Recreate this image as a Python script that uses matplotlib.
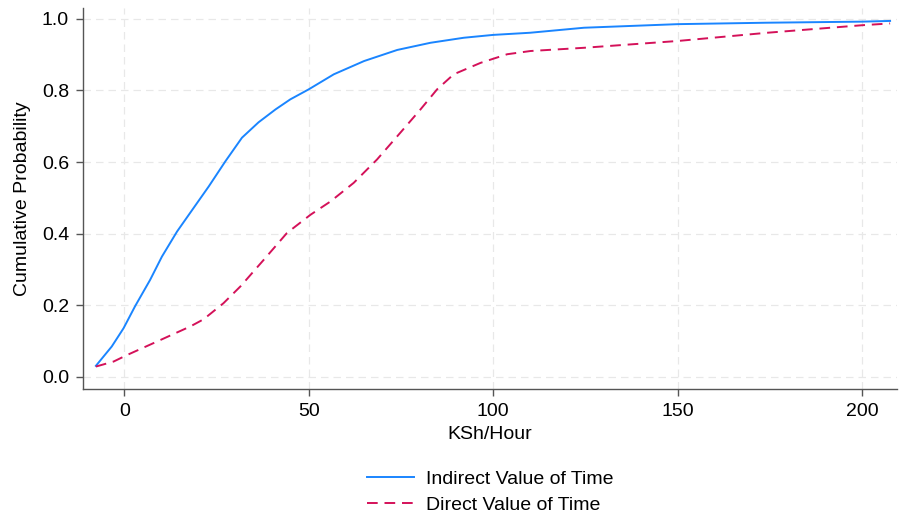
import matplotlib
matplotlib.use("Agg")
import matplotlib.pyplot as plt

plt.rcParams['font.family'] = ['Liberation Sans', 'DejaVu Sans']

# Indirect value of time
ind_x = [-7.7, -3.4, -0.2, 2.9, 7.0, 10.2, 14.3, 18.8, 22.9, 27.4, 31.9, 36.4, 41.0, 45.0,
         50.0, 56.8, 65.0, 74.0, 83.0, 92.0, 100.0, 110.0, 124.6, 150.0, 174.0, 200.0, 207.6]
ind_y = [0.031, 0.085, 0.136, 0.197, 0.271, 0.336, 0.406, 0.472, 0.532, 0.602, 0.668, 0.711, 0.747, 0.775,
         0.803, 0.845, 0.882, 0.913, 0.933, 0.947, 0.955, 0.961, 0.975, 0.985, 0.989, 0.992, 0.994]

# Direct value of time
dir_x = [-7.7, -2.9, 0.7, 8.9, 17.9, 21.5, 26.9, 31.5, 37.8, 44.1, 50.5, 55.9, 62.2, 68.5,
         74.0, 80.3, 84.8, 89.3, 96.6, 103.8, 110.1, 124.6, 150.0, 174.3, 200.0, 207.6]
dir_y = [0.029, 0.043, 0.061, 0.099, 0.141, 0.161, 0.206, 0.253, 0.327, 0.402, 0.453, 0.490, 0.542, 0.607,
         0.672, 0.747, 0.803, 0.845, 0.877, 0.901, 0.910, 0.919, 0.938, 0.961, 0.982, 0.987]

x_ticks = [0, 50, 100, 150, 200]
y_ticks = [0.0, 0.2, 0.4, 0.6, 0.8, 1.0]

fig = plt.figure(figsize=(8.99, 5.12), dpi=100)
ax = fig.add_axes([0.0923, 0.240, 0.906, 0.745])

ax.plot(ind_x, ind_y, color='#1a85ff', lw=1.4, label='Indirect Value of Time')
ax.plot(dir_x, dir_y, color='#d41159', lw=1.4, dashes=(5.5, 3.5), label='Direct Value of Time')

ax.set_xlim(-11.2, 209.6)
ax.set_ylim(-0.034, 1.031)
ax.set_xticks(x_ticks)
ax.set_yticks(y_ticks)
ax.set_yticklabels([f"{v:.1f}" for v in y_ticks])

# dashed light grid like Stata
ax.grid(True, color='#e8e8e8', linestyle=(0, (6, 4)), lw=0.9)
ax.set_axisbelow(True)

for s in ['top', 'right']:
    ax.spines[s].set_visible(False)
for s in ['left', 'bottom']:
    ax.spines[s].set_color('#555555')
    ax.spines[s].set_linewidth(1.0)
ax.tick_params(axis='both', direction='out', length=5, width=1.0, color='#555555',
               labelsize=14, pad=5)

ax.set_xlabel('KSh/Hour', fontsize=14, labelpad=4)
ax.set_ylabel('Cumulative Probability', fontsize=14, labelpad=8)

ax.legend(loc='upper center', bbox_to_anchor=(0.5, -0.166), ncol=1, frameon=False,
          fontsize=14, handlelength=2.4, handletextpad=0.6, labelspacing=0.45)

fig.savefig('out.png', dpi=100)
